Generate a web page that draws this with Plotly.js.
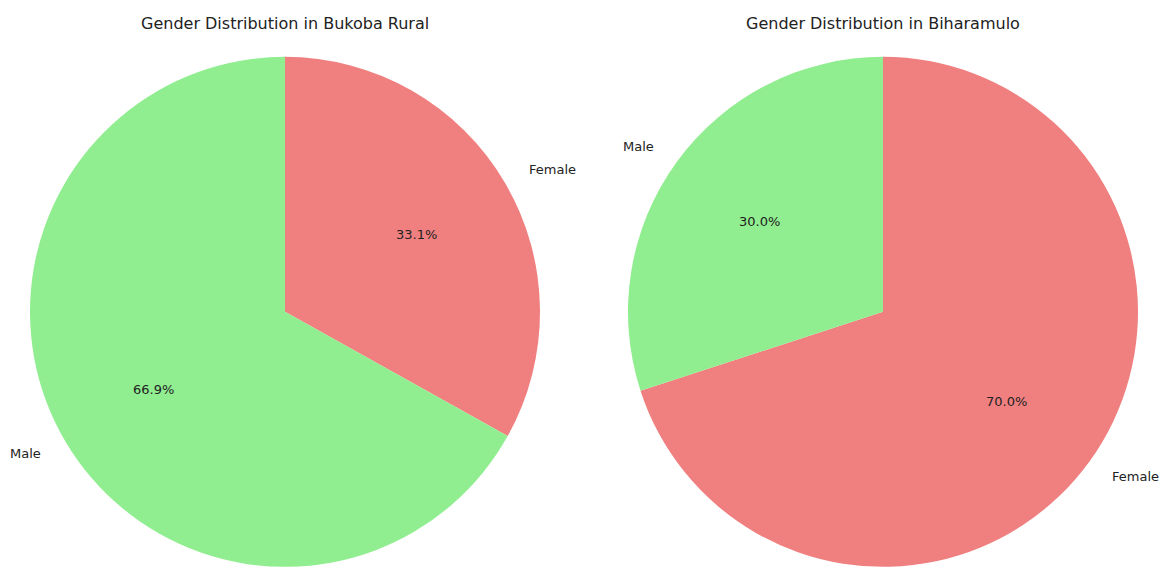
<!DOCTYPE html>
<html>
<head>
<meta charset="utf-8">
<script src="https://cdn.plot.ly/plotly-3.0.1.min.js"></script>
<style>html,body{margin:0;padding:0;background:#fff;}#chart{width:1169px;height:567px;}</style>
</head>
<body>
<div id="chart"></div>
<script>
const genders = ["Female", "Male"];
const bukobaRural = [33.1, 66.9];
const biharamulo = [70.0, 30.0];
const districts = ["Bukoba Rural", "Biharamulo"];
const colors = ["#F08080", "#90EE90"];

const W = 1169, H = 567;
const R = 255; // pie radius in px (half of the domain height)
const domains = [
  {x: [30 / W, 540 / W], y: [0, 0.9]},
  {x: [628 / W, 1138 / W], y: [0, 0.9]}
];
const series = [bukobaRural, biharamulo];
const font = {family: "DejaVu Sans, sans-serif", size: 13, color: "#222"};

const data = [];
const annotations = [];
series.forEach((vals, i) => {
  data.push({
    type: "pie", labels: genders, values: vals, sort: false,
    direction: "clockwise", rotation: 0, domain: domains[i],
    marker: {colors: colors, line: {width: 0}},
    textinfo: "none", hoverinfo: "label+percent", showlegend: false
  });
  // matplotlib-style labels: name at 1.1 R, percentage at 0.6 R on each slice's mid-angle
  const cx = (domains[i].x[0] + domains[i].x[1]) / 2;
  const cy = (domains[i].y[0] + domains[i].y[1]) / 2;
  const total = vals.reduce((a, b) => a + b, 0);
  let cum = 0;
  vals.forEach((v, k) => {
    const mid = (cum + v / 2) / total;
    cum += v;
    const ang = Math.PI / 2 - 2 * Math.PI * mid;
    const c = Math.cos(ang), s = Math.sin(ang);
    annotations.push({
      text: genders[k], xref: "paper", yref: "paper",
      x: cx + 1.1 * R * c / W, y: cy + 1.1 * R * s / H,
      xanchor: c > 0 ? "left" : "right", yanchor: "middle",
      showarrow: false, font: font
    });
    annotations.push({
      text: (100 * v / total).toFixed(1) + "%", xref: "paper", yref: "paper",
      x: cx + 0.6 * R * c / W, y: cy + 0.6 * R * s / H,
      xanchor: "center", yanchor: "middle",
      showarrow: false, font: font
    });
  });
});

districts.forEach((d, i) => annotations.push({
  text: "Gender Distribution in " + d,
  xref: "paper", yref: "paper",
  x: (domains[i].x[0] + domains[i].x[1]) / 2, y: 1 - 23 / H,
  xanchor: "center", yanchor: "middle", showarrow: false,
  font: {family: "DejaVu Sans, sans-serif", size: 16, color: "#222"}
}));

Plotly.newPlot("chart", data, {
  width: W, height: H,
  margin: {l: 0, r: 0, t: 0, b: 0},
  paper_bgcolor: "#fff",
  annotations: annotations
}, {displayModeBar: false, staticPlot: true});
</script>
</body>
</html>
